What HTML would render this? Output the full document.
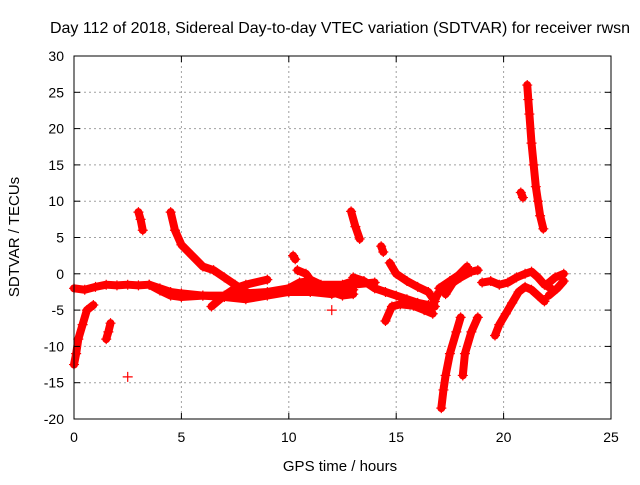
<!DOCTYPE html>
<html><head><meta charset="utf-8"><style>
body{margin:0;background:#fff}
svg{font-family:"Liberation Sans",sans-serif;font-size:13px}
</style></head><body>
<svg id="chart" width="640" height="480" viewBox="0 0 640 480" xmlns="http://www.w3.org/2000/svg">
<text x="340" y="33" text-anchor="middle" font-size="16">Day 112 of 2018, Sidereal Day-to-day VTEC variation (SDTVAR) for receiver rwsn</text>
<g id="grid"></g>
<g id="marks"></g>
<rect x="74" y="56" width="537" height="363" fill="none" stroke="#000" stroke-width="1"/>
<g id="ticks"></g>
<text x="340" y="471" text-anchor="middle" font-size="15">GPS time / hours</text>
<text transform="translate(19,237) rotate(-90)" text-anchor="middle" font-size="15">SDTVAR / TECUs</text>
</svg>
<script>
const xTicks=[0,5,10,15,20,25];
const yTicks=[-20,-15,-10,-5,0,5,10,15,20,25,30];
const trackA=[[0,-2],[0.5,-2.2],[1,-1.8],[1.5,-1.5],[2,-1.6],[2.5,-1.5],[3,-1.6],[3.5,-1.5],[4,-2],[4.5,-2.5],[5,-2.7],[6,-3],[7,-3],[8,-2.7],[9,-2.5],[10,-2],[11,-1.8],[12,-2],[13,-1.5],[14,-1.2]];
const trackB=[[3.5,-1.5],[4,-2.3],[4.5,-3],[5,-3.2],[6,-3],[7,-3.2],[8,-3.5],[9,-3],[10,-2.5],[11,-2.5],[12,-2.8],[13,-2.2]];
const trackC=[[0,-12.5],[0.1,-11],[0.2,-9],[0.4,-7],[0.6,-5],[0.9,-4.3]];
const trackD=[[1.5,-9],[1.6,-8],[1.7,-6.8]];
const trackE=[[2.5,-14.2]];
const trackF=[[3,8.5],[3.1,7.5],[3.2,6]];
const trackG=[[4.5,8.5],[4.7,6],[5,4],[5.5,2.5],[6,1],[6.5,0.5],[7,-0.5],[7.5,-1.5],[8,-2.5],[8.5,-3],[9,-2.8],[9.5,-2.5],[10,-2],[10.5,-1.2],[11,-1],[11.5,-1.8],[12,-2.5],[12.5,-3],[13,-2.8]];
const trackH=[[6.4,-4.5],[7,-3],[7.5,-2],[8,-1.5],[9,-0.8]];
const trackI=[[10.2,2.5],[10.3,2]];
const trackJ=[[10.4,0.5],[10.8,0],[11,-0.8],[11.5,-1.5],[12.5,-1.5],[13,-1]];
const trackK=[[12,-5]];
const trackL=[[12.9,8.6],[13.1,6.5],[13.3,4.8]];
const trackM=[[14.3,3.8],[14.4,3]];
const trackN=[[14.7,1.5],[15,0],[15.5,-1],[16,-1.8],[16.5,-2.5],[16.8,-3.8]];
const trackO=[[13,-0.5],[13.5,-1],[14,-2],[14.5,-2.5],[15,-3],[15.5,-3.5],[16,-4],[16.5,-4.3],[16.8,-4.5]];
const trackP=[[14.5,-6.5],[14.8,-4.5],[15.2,-4.2],[15.8,-4.4],[16.3,-5],[16.7,-5.5]];
const trackQ=[[16.8,-3.5],[17,-2.5],[17.5,-1.5],[18,-0.5],[18.5,0.3],[18.8,0.5]];
const trackQ2=[[17,-2],[17.5,-1],[18,0],[18.3,1],[17.8,-0.5],[17.3,-2.8]];
const trackR=[[17.1,-18.5],[17.2,-16],[17.3,-14],[17.5,-11],[17.8,-8],[18,-6]];
const trackS=[[18.1,-14],[18.2,-11],[18.5,-8],[18.8,-6]];
const trackT=[[19.6,-8.5],[19.8,-7],[20.1,-5.5],[20.4,-4],[20.7,-2.5],[21,-1.8],[21.3,-2.2],[21.6,-3],[21.9,-3.8]];
const trackU=[[19,-1.2],[19.4,-1],[19.8,-1.5],[20.2,-1.2],[20.6,-0.5],[21,0],[21.3,0.3],[21.6,-0.5],[21.9,-1.5],[22.2,-2]];
const trackV=[[22,-1.5],[22.4,-0.5],[22.8,0]];
const trackV2=[[22.1,-3],[22.5,-2],[22.8,-1]];
const trackW=[[21.1,26],[21.15,24],[21.2,22],[21.3,18],[21.4,15],[21.5,12],[21.6,10],[21.7,8],[21.85,6.2]];
const trackX=[[20.8,11.2],[20.9,10.5]];
const tracks=[trackA,trackB,trackC,trackD,trackE,trackF,trackG,trackH,trackI,trackJ,trackK,trackL,trackM,trackN,trackO,trackP,trackQ,trackQ2,trackR,trackS,trackT,trackU,trackV,trackV2,trackW,trackX];

const X0=74,X1=611,Y0=419,Y1=56;
const xs=t=>X0+(t-0)/(25-0)*(X1-X0);
const ys=v=>Y0-(v+20)/(30+20)*(Y0-Y1);
const NS="http://www.w3.org/2000/svg";
const grid=document.getElementById('grid'),ticks=document.getElementById('ticks'),marks=document.getElementById('marks');
function mk(tag,attrs,parent){const e=document.createElementNS(NS,tag);for(const k in attrs)e.setAttribute(k,attrs[k]);parent.appendChild(e);return e;}
xTicks.forEach(t=>{
  const x=xs(t);
  if(t>0&&t<25){const g=mk('line',{x1:x,x2:x,y1:Y1,y2:Y0,stroke:'#a0a0a0','stroke-dasharray':'2,3'},grid);
  
  }
  mk('line',{x1:x,x2:x,y1:Y0,y2:Y0-6,stroke:'#000'},ticks);
  mk('line',{x1:x,x2:x,y1:Y1,y2:Y1+6,stroke:'#000'},ticks);
  const l=mk('text',{x:x,y:Y0+23,'text-anchor':'middle','font-size':14},ticks);
  l.textContent=t;
  
  
});
yTicks.forEach(v=>{
  const y=ys(v);
  if(v>-20&&v<30){const g=mk('line',{x1:X0,x2:X1,y1:y,y2:y,stroke:'#a0a0a0','stroke-dasharray':'2,3'},grid);
  
  }
  mk('line',{x1:X0,x2:X0+6,y1:y,y2:y,stroke:'#000'},ticks);
  mk('line',{x1:X1,x2:X1-6,y1:y,y2:y,stroke:'#000'},ticks);
  const l=mk('text',{x:X0-10,y:y+5,'text-anchor':'end','font-size':14},ticks);
  l.textContent=v;
  
  
});
tracks.forEach(tr=>{
  if(tr.length>1){
    const p=mk('polyline',{points:tr.map(d=>xs(d[0])+','+ys(d[1])).join(' '),fill:'none',stroke:'#ff0000','stroke-width':8,'stroke-linejoin':'round','stroke-linecap':'round'},marks);
    
    
  }
  tr.forEach(d=>{
    const x=xs(d[0]),y=ys(d[1]);
    const m=mk('path',{d:`M${x-5},${y}H${x+5}M${x},${y-5}V${y+5}`,stroke:'#ff0000','stroke-width':1.2},marks);
    
    
  });
});
</script>
</body></html>
